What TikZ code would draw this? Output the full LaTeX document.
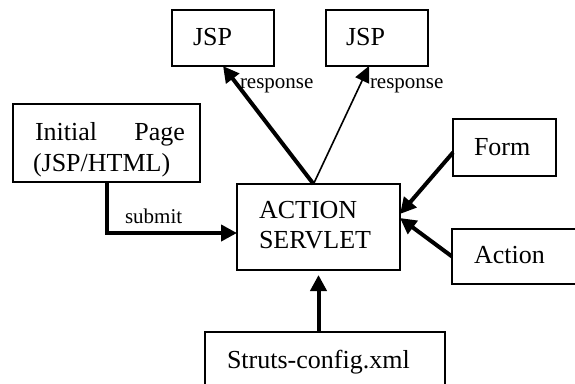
\documentclass[tikz,border=0pt]{standalone}
\usepackage{fontspec}
\setmainfont{Liberation Serif}
\usetikzlibrary{arrows.meta,calc}

\tikzset{
  box/.style={draw, line width=1.8pt, rectangle, inner sep=0pt, outer sep=0pt},
  txt/.style={inner sep=0pt, outer sep=0pt, font=\fontsize{26}{30}\selectfont},
  lbl/.style={inner sep=0pt, outer sep=0pt, font=\fontsize{21}{24}\selectfont},
  heavy/.style={line width=4pt, -{Triangle[length=16pt,width=16pt]}},
  light/.style={line width=1.6pt, -{Triangle[length=16pt,width=15pt]}},
}

\begin{document}
\begin{tikzpicture}[x=1pt,y=-1pt]
  \useasboundingbox (0,0) rectangle (575,383);
  \clip (0,0) rectangle (575,383);

  % boxes
  \node[box, minimum width=102pt, minimum height=56pt] (jspA) at (223,38) {};
  \node[box, minimum width=102pt, minimum height=56pt] (jspB) at (377,38) {};
  \node[box, minimum width=187pt, minimum height=78pt] (init) at (106.5,143) {};
  \node[box, minimum width=163pt, minimum height=86pt] (srv) at (318.5,227) {};
  \node[box, minimum width=103pt, minimum height=57pt] (frm) at (504.5,147.5) {};
  \node[box, minimum width=168pt, minimum height=55pt] (act) at (536,256.5) {};
  \node[box, minimum width=240pt, minimum height=78pt] (str) at (325,371) {};

  % box texts
  \node[txt, anchor=base west] (jspAt) at (193,45) {JSP};
  \node[txt, anchor=base west] (jspBt) at (346,45) {JSP};
  \node[txt, anchor=base west] (initA) at (35,140) {Initial};
  \node[txt, anchor=base east] (initB) at (185,140) {Page};
  \node[txt, anchor=base west] (initC) at (33,171) {(JSP/HTML)};
  \node[txt, anchor=base west] (srvA) at (259,218) {ACTION};
  \node[txt, anchor=base west] (srvB) at (259,248) {SERVLET};
  \node[txt, anchor=base west] (frmt) at (474,155) {Form};
  \node[txt, anchor=base west] (actt) at (474,263) {Action};
  \node[txt, anchor=base west] (strt) at (227,368) {Struts-config.xml};

  % connector labels
  \node[lbl, anchor=base west] (respA) at (240,88) {response};
  \node[lbl, anchor=base west] (respB) at (370,88) {response};
  \node[lbl, anchor=base west] (sub) at (125,223) {submit};

  % connectors
  \draw[heavy] ([xshift=-5pt]srv.north) -- (jspA.south);
  \draw[light] ([xshift=-5pt]srv.north) -- ([xshift=-8pt]jspB.south);
  \draw[heavy] (init.south) |- ([yshift=-6pt]srv.west);
  \draw[heavy] ([yshift=-5pt]frm.west) -- ([yshift=13pt]srv.east);
  \draw[heavy] (act.west) -- ([yshift=9pt]srv.east);
  \draw[heavy, shorten >=5pt] (str.north -| srv.south) -- (srv.south);
\end{tikzpicture}
\end{document}
